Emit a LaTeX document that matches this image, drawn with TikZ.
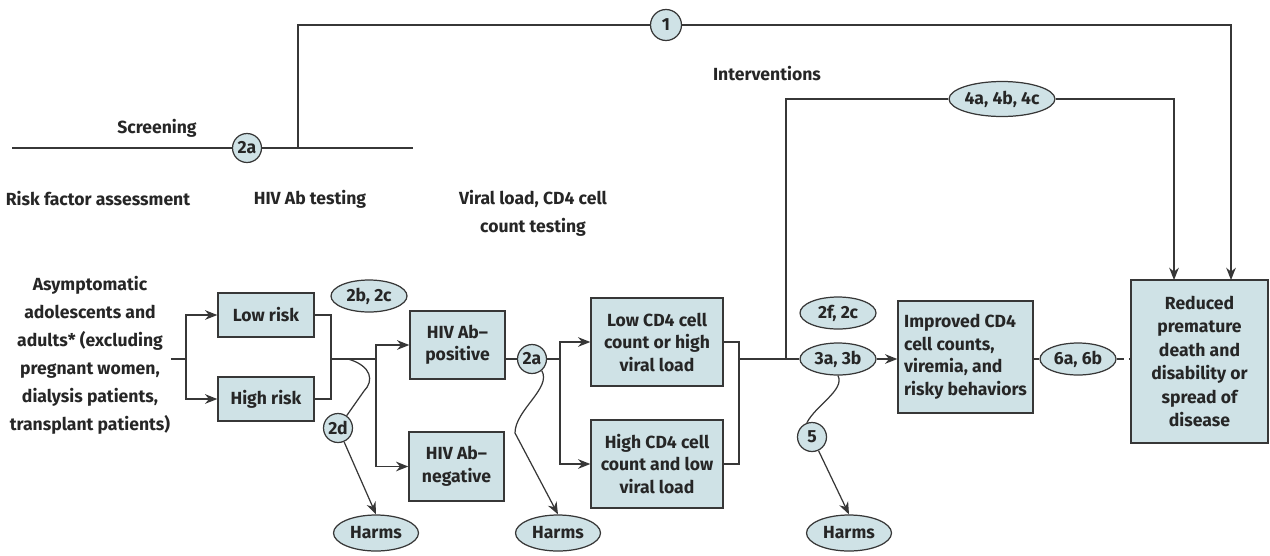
\documentclass[tikz,border=0pt]{standalone}
\usepackage{fontspec}
\setmainfont{Fira Sans}
\usetikzlibrary{arrows.meta,shapes.geometric}
\definecolor{boxfill}{RGB}{207,226,230}
\definecolor{linegray}{RGB}{55,55,55}
\tikzset{
  box/.style={draw=linegray, fill=boxfill, line width=0.8pt, align=center, inner sep=1pt,
    text=black!85, font=\bfseries\fontsize{10}{12.8}\selectfont},
  oval/.style={ellipse, draw=linegray, fill=boxfill, line width=0.7pt, inner sep=0pt,
    minimum width=1.52cm, minimum height=0.64cm, text=black!85, font=\bfseries\fontsize{10}{12}\selectfont},
  kq/.style={circle, draw=linegray, fill=boxfill, line width=0.7pt, inner sep=0pt,
    minimum size=0.58cm, text=black!85, font=\bfseries\fontsize{10}{12}\selectfont},
  lbl/.style={align=center, inner sep=0pt, text=black!85, font=\bfseries\fontsize{10}{15.9}\selectfont},
  arr/.style={-{Stealth[length=7pt,width=5.5pt]}}
}
\begin{document}
\begin{tikzpicture}[x=0.02cm, y=-0.02cm, line width=0.7pt, color=linegray]
    \useasboundingbox (0,0) rectangle (1270,555);
    % headings
    \node[lbl] (screen) at (157,128) {Screening};
    \node[lbl] (interv) at (767,74) {Interventions};
    \node[lbl] (riskfa) at (98,199) {Risk factor assessment};
    \node[lbl] (abtest) at (310,199) {HIV Ab testing};
    \node[lbl] (vltest) at (533,213) {Viral load, CD4 cell\\count testing};
    \node[lbl] (pop) at (90,355) {Asymptomatic\\adolescents and\\adults* (excluding\\pregnant women,\\dialysis patients,\\transplant patients)};
    % boxes
    \node[box, minimum width=1.92cm, minimum height=0.88cm] (lowrisk) at (266,315) {Low risk};
    \node[box, minimum width=1.92cm, minimum height=0.88cm] (highrisk) at (266,399) {High risk};
    \node[box, minimum width=1.90cm, minimum height=1.36cm] (abpos) at (457.5,345) {HIV Ab--\\positive};
    \node[box, minimum width=1.90cm, minimum height=1.38cm] (abneg) at (456.5,466.5) {HIV Ab--\\negative};
    \node[box, minimum width=2.64cm, minimum height=1.76cm] (lowcd4) at (657,342) {Low CD4 cell\\count or high\\viral load};
    \node[box, minimum width=2.64cm, minimum height=1.76cm] (highcd4) at (657,464) {High CD4 cell\\count and low\\viral load};
    \node[box, align=left, minimum width=2.70cm, minimum height=2.24cm] (improved) at (965.5,357) {Improved CD4\\cell counts,\\viremia, and\\risky behaviors};
    \node[box, minimum width=2.74cm, minimum height=3.26cm, font=\bfseries\fontsize{10}{13.4}\selectfont] (reduced) at (1199.5,361.5) {Reduced\\premature\\death and\\disability or\\spread of\\disease};
    % key questions
    \node[kq, minimum size=0.62cm] (kq1) at (666,25) {1};
    \node[kq] (kq2a) at (247,148) {2a};
    \node[kq] (kq2ab) at (532,359) {2a};
    \node[kq] (kq2d) at (338,428) {2d};
    \node[kq] (kq5) at (812,437) {5};
    \node[oval] (kq2bc) at (369,296) {2b, 2c};
    \node[oval] (kq2fc) at (838,313) {2f, 2c};
    \node[oval] (kq3ab) at (838,359) {3a, 3b};
    \node[oval] (kq6ab) at (1078,359) {6a, 6b};
    \node[oval, minimum width=2cm, minimum height=0.7cm] (kq4abc) at (1002,99) {4a, 4b, 4c};
    \node[oval, minimum width=1.7cm, minimum height=0.72cm] (harms1) at (376,533) {Harms};
    \node[oval, minimum width=1.7cm, minimum height=0.72cm] (harms2) at (558,533) {Harms};
    \node[oval, minimum width=1.7cm, minimum height=0.72cm] (harms3) at (849,533) {Harms};
    % joints
    \coordinate (scrL) at (12,148);
    \coordinate (scrR) at (413,148);
    \coordinate (topL) at (298,148);
    \coordinate (topR) at (1231,25);
    \coordinate (in1) at (1231,280);
    \coordinate (in4) at (1174,280);
    \coordinate (br1) at (186,359);
    \coordinate (j1) at (331,359);
    \coordinate (br2) at (376,359);
    \coordinate (br3) at (560,359);
    \coordinate (j2) at (739,359);
    \coordinate (iv) at (786,359);
    % overall arrow
    \draw (scrL) -- (kq2a);
    \draw (kq2a) -- (scrR);
    \draw (topL) |- (kq1);
    \draw[arr] (kq1) -| (in1);
    \draw (iv) |- (kq4abc);
    \draw[arr] (kq4abc) -| (in4);
    % pathway
    \draw (pop.east |- br1) -- (br1);
    \draw[arr] (br1) |- (lowrisk);
    \draw[arr] (br1) |- (highrisk);
    \draw (lowrisk.east) -| (j1);
    \draw (highrisk.east) -| (j1);
    \draw (j1) -- (br2);
    \draw[arr] (br2) |- (abpos);
    \draw[arr] (br2) |- (abneg);
    \draw (abpos.east |- kq2ab) -- (kq2ab);
    \draw (kq2ab) -- (br3);
    \draw[arr] (br3) |- (lowcd4);
    \draw[arr] (br3) |- (highcd4);
    \draw (lowcd4.east) -| (j2);
    \draw (highcd4.east) -| (j2);
    \draw (j2) -- (kq3ab);
    \draw[arr] (kq3ab) -- (kq3ab -| improved.west);
    \draw[dash pattern=on 4pt off 3pt] (improved.east |- kq6ab) -- (kq6ab);
    \draw[dash pattern=on 4pt off 3pt] (kq6ab) -- (kq6ab -| reduced.west);
    % harms
    \draw (348,359) .. controls (372,366) and (374,381) .. (364,391) -- (kq2d);
    \draw[arr] (kq2d) -- (harms1.north);
    \draw[arr] (kq2ab.-50) .. controls (552,388) and (515,410) .. (515,433) -- (harms2.north);
    \draw (kq3ab.south) .. controls (845,390) and (816,405) .. (kq5.110);
    \draw[arr] (kq5) -- (harms3.north);
\end{tikzpicture}
\end{document}
